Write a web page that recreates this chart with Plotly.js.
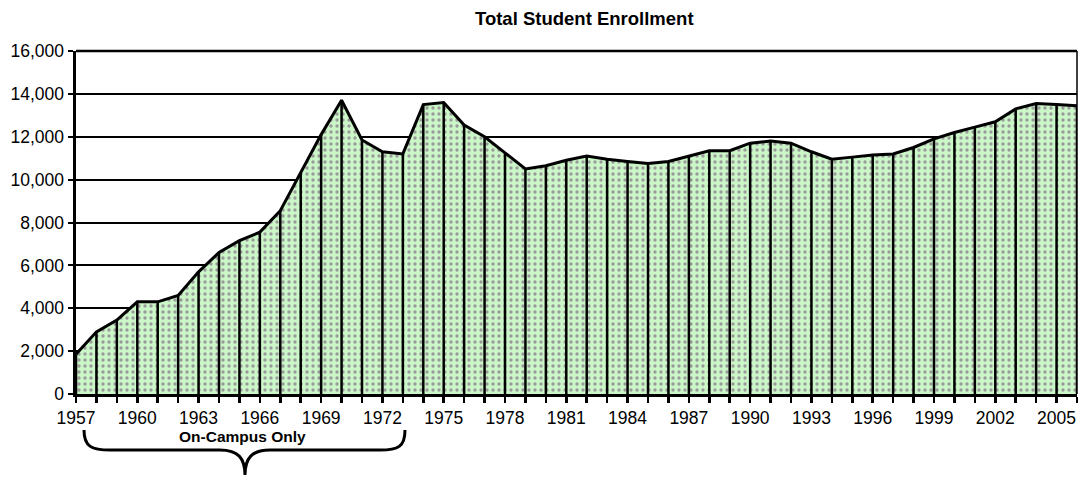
<!DOCTYPE html>
<html>
<head>
<meta charset="utf-8">
<script src="https://cdn.plot.ly/plotly-3.0.1.min.js"></script>
<style>
  body { margin: 0; background: white; }
  #graph { width: 1082px; height: 478px; }
</style>
</head>
<body>
<div id="graph"></div>
<script>
// enrollment per year
const years = [];
for (let yr = 1957; yr <= 2006; yr++) years.push(yr);

const enrollment = [
  1850, 2900, 3450, 4300, 4300, 4600, 5700, 6600, 7150, 7550,
  8550, 10300, 12100, 13700, 11850, 11300, 11200, 13500, 13600, 12550,
  12000, 11250, 10500, 10650, 10900, 11100, 10950, 10850, 10750, 10850,
  11100, 11350, 11350, 11700, 11800, 11700, 11300, 10950, 11050, 11150,
  11200, 11500, 11900, 12200, 12450, 12700, 13300, 13550, 13500, 13450
];

// label every 3rd year, tick on every year
const tickLabels = years.map((yr, i) => (i % 3 === 0 ? String(yr) : ''));

const yTicks = [0, 2000, 4000, 6000, 8000, 10000, 12000, 14000, 16000];

// drop lines from the baseline up to each point
const dropX = [];
const dropY = [];
years.forEach((yr, i) => {
  dropX.push(yr, yr, null);
  dropY.push(0, enrollment[i], null);
});

const area = {
  x: years,
  y: enrollment,
  type: 'scatter',
  mode: 'lines',
  fill: 'tozeroy',
  fillpattern: { shape: '.', bgcolor: '#cbf6c8', fgcolor: '#9a9a9a', size: 6, solidity: 0.25 },
  line: { color: 'black', width: 3 },
  hoverinfo: 'x+y'
};

const drops = {
  x: dropX,
  y: dropY,
  type: 'scatter',
  mode: 'lines',
  line: { color: 'black', width: 2.5 },
  hoverinfo: 'skip'
};

// brace under the on-campus years, given in screen pixels and converted
const plotL = 76, plotW = 1001, plotB = 394, plotH = 343;
const px2yr = px => 1957 + (px - plotL) / plotW * 49;
const py2p = py => (plotB - py) / plotH;
const P = (px, py) => px2yr(px) + ',' + py2p(py);

const bracePath =
  'M ' + P(84, 430) +
  ' C ' + P(84, 447) + ' ' + P(92, 450) + ' ' + P(110, 450) +
  ' L ' + P(220, 450) +
  ' C ' + P(238, 450) + ' ' + P(245, 458) + ' ' + P(245, 475) +
  ' C ' + P(245, 458) + ' ' + P(252, 450) + ' ' + P(270, 450) +
  ' L ' + P(380, 450) +
  ' C ' + P(398, 450) + ' ' + P(405, 447) + ' ' + P(405, 430);

const layout = {
  width: 1082,
  height: 478,
  margin: { l: plotL, r: 5, t: 51, b: 84 },
  paper_bgcolor: 'white',
  plot_bgcolor: 'white',
  font: { family: 'Liberation Sans, Arial, sans-serif', color: 'black', size: 17.5 },
  showlegend: false,
  title: {
    text: '<b>Total Student Enrollment</b>',
    font: { size: 18.5, color: 'black' },
    x: 0.54, xanchor: 'center',
    yref: 'container', y: 0.961, yanchor: 'middle'
  },
  xaxis: {
    type: 'linear',
    range: [1957, 2006],
    tickmode: 'array',
    tickvals: years,
    ticktext: tickLabels,
    ticks: 'outside',
    ticklen: 6,
    tickwidth: 2.5,
    tickcolor: 'black',
    showline: true,
    linecolor: 'black',
    linewidth: 2.5,
    showgrid: false,
    zeroline: false,
    tickfont: { size: 17.5 }
  },
  yaxis: {
    range: [0, 16000],
    tickmode: 'array',
    tickvals: yTicks,
    tickformat: ',d',
    ticks: 'outside',
    ticklen: 5,
    tickwidth: 2,
    tickcolor: 'black',
    showline: true,
    linecolor: 'black',
    linewidth: 3.5,
    showgrid: true,
    gridcolor: 'black',
    gridwidth: 2,
    zeroline: false,
    tickfont: { size: 17.5 }
  },
  shapes: [
    { type: 'line', xref: 'paper', yref: 'paper', x0: 1, x1: 1, y0: 0, y1: 1,
      line: { color: 'black', width: 1.5 } },
    { type: 'line', xref: 'paper', yref: 'paper', x0: 0, x1: 1, y0: 1, y1: 1,
      line: { color: 'black', width: 2.5 } },
    { type: 'path', xref: 'x', yref: 'paper', path: bracePath,
      line: { color: 'black', width: 3 } }
  ],
  annotations: [
    { text: '<b>On-Campus Only</b>', xref: 'x', yref: 'paper',
      x: px2yr(242), y: py2p(436.5), showarrow: false,
      xanchor: 'center', yanchor: 'middle', font: { size: 15.5, color: 'black' } }
  ]
};

Plotly.newPlot('graph', [area, drops], layout, { displayModeBar: false, staticPlot: true });
</script>
</body>
</html>
